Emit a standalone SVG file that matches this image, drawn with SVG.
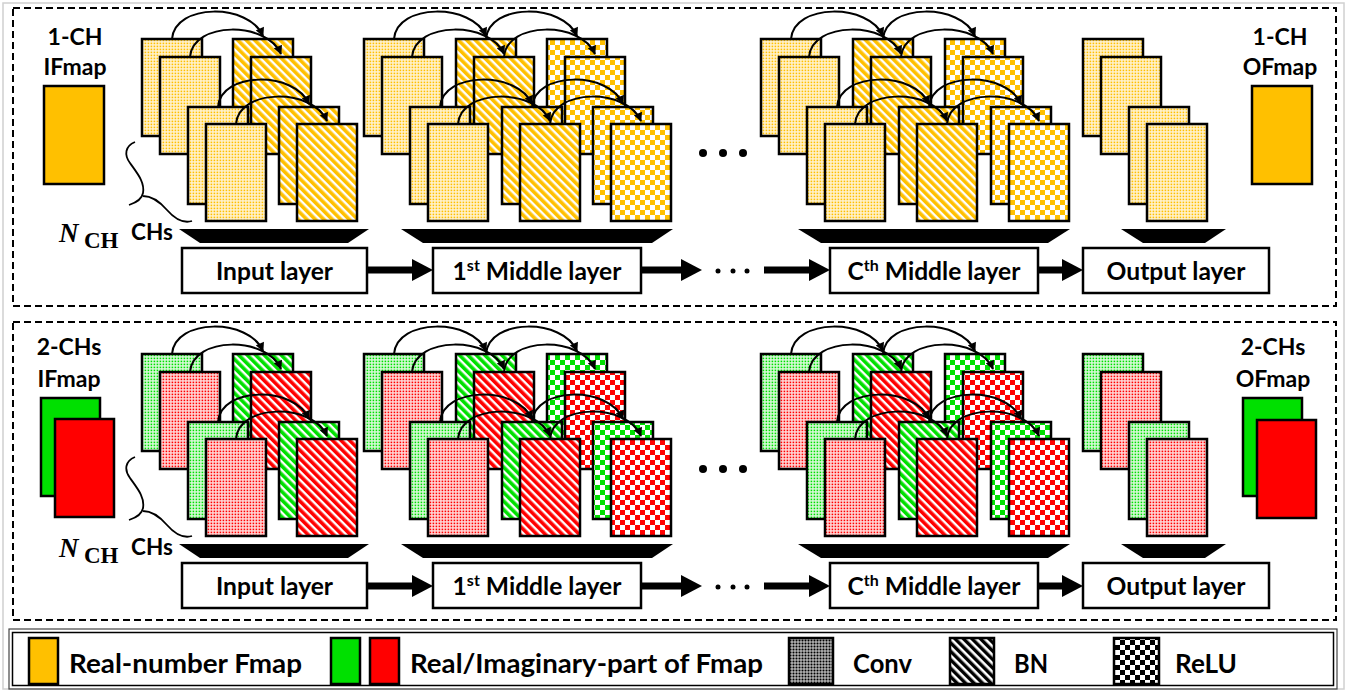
<svg xmlns="http://www.w3.org/2000/svg" width="1347" height="692" viewBox="0 0 1347 692">
<style>
.card{stroke:#000;stroke-width:2.5}
.arc{fill:none;stroke:#000;stroke-width:2;marker-end:url(#ah)}
.box{fill:#fff;stroke:#000;stroke-width:2.5}
.lbl{font-family:Lato,"Liberation Sans",sans-serif;font-weight:700;font-size:24.6px;text-anchor:middle;fill:#000}
.ttl{font-family:Lato,"Liberation Sans",sans-serif;font-weight:700;font-size:23px;text-anchor:middle;fill:#000}
.leg{font-family:Lato,"Liberation Sans",sans-serif;font-weight:700;font-size:26.5px;fill:#000}
.big{fill:none;stroke:#000;stroke-width:7;marker-end:url(#bh)}
.brace{fill:none;stroke:#000;stroke-width:1.8}
.panel{fill:none;stroke:#000;stroke-width:2;stroke-dasharray:7 4}
.nN{font-family:"Liberation Serif",serif;font-style:italic;font-weight:700;font-size:27px}
.nC{font-family:"Liberation Serif",serif;font-weight:700;font-size:23px}
.nS{font-family:Lato,"Liberation Sans",sans-serif;font-weight:700;font-size:22.5px}
</style>
<defs>
<marker id="ah" viewBox="0 0 10 10" refX="9" refY="5" markerWidth="10" markerHeight="9" markerUnits="userSpaceOnUse" orient="auto"><path d="M0,0 L10,5 L0,10 z" fill="#000"/></marker>
<marker id="bh" viewBox="0 0 21 22" refX="0" refY="11" markerWidth="21" markerHeight="22" markerUnits="userSpaceOnUse" orient="auto"><path d="M0,0 L21,11 L0,22 z" fill="#000"/></marker>
<pattern id="dO" width="3" height="3" patternUnits="userSpaceOnUse"><rect width="3" height="3" fill="#FFF3D2"/><rect x="0.6" y="0.6" width="1.6" height="1.6" fill="#FFC000"/></pattern>
<pattern id="dG" width="3" height="3" patternUnits="userSpaceOnUse"><rect width="3" height="3" fill="#DDFADD"/><rect x="0.6" y="0.6" width="1.6" height="1.6" fill="#00E000"/></pattern>
<pattern id="dR" width="3" height="3" patternUnits="userSpaceOnUse"><rect width="3" height="3" fill="#FFDCDC"/><rect x="0.6" y="0.6" width="1.6" height="1.6" fill="#FF0000"/></pattern>
<pattern id="dK" width="3" height="3" patternUnits="userSpaceOnUse"><rect width="3" height="3" fill="#fff"/><rect x="0.4" y="0.4" width="2.2" height="2.2" fill="#000"/></pattern>
<pattern id="sO" width="6" height="6" patternUnits="userSpaceOnUse" patternTransform="rotate(-45)"><rect width="6" height="6" fill="#fff"/><rect width="3.6" height="6" fill="#FFC000"/></pattern>
<pattern id="sG" width="6" height="6" patternUnits="userSpaceOnUse" patternTransform="rotate(-45)"><rect width="6" height="6" fill="#fff"/><rect width="3.6" height="6" fill="#00E000"/></pattern>
<pattern id="sR" width="6" height="6" patternUnits="userSpaceOnUse" patternTransform="rotate(-45)"><rect width="6" height="6" fill="#fff"/><rect width="3.6" height="6" fill="#FF0000"/></pattern>
<pattern id="sK" width="6" height="6" patternUnits="userSpaceOnUse" patternTransform="rotate(-45)"><rect width="6" height="6" fill="#fff"/><rect width="3.4" height="6" fill="#000"/></pattern>
<pattern id="cO" width="10" height="10" patternUnits="userSpaceOnUse"><rect width="10" height="10" fill="#fff"/><rect width="5" height="5" fill="#FFC000"/><rect x="5" y="5" width="5" height="5" fill="#FFC000"/></pattern>
<pattern id="cG" width="10" height="10" patternUnits="userSpaceOnUse"><rect width="10" height="10" fill="#fff"/><rect width="5" height="5" fill="#00E000"/><rect x="5" y="5" width="5" height="5" fill="#00E000"/></pattern>
<pattern id="cR" width="10" height="10" patternUnits="userSpaceOnUse"><rect width="10" height="10" fill="#fff"/><rect width="5" height="5" fill="#FF0000"/><rect x="5" y="5" width="5" height="5" fill="#FF0000"/></pattern>
<pattern id="cK" width="10" height="10" patternUnits="userSpaceOnUse"><rect width="10" height="10" fill="#fff"/><rect width="5" height="5" fill="#000"/><rect x="5" y="5" width="5" height="5" fill="#000"/></pattern>
</defs>
<rect width="1347" height="692" fill="#fff"/>
<rect x="3" y="3" width="1341" height="686" fill="none" stroke="#d0d0d0" stroke-width="1.5"/>

<!-- ================= TOP PANEL (1-CH) ================= -->
<g id="panel-top">
<rect class="panel" x="13" y="8" width="1323" height="298"/>
</g>
<g id="top-ifmap">
<text class="ttl" x="75" y="45">1-CH</text>
<text class="ttl" x="75" y="75">IFmap</text>
<rect class="card" x="44" y="86" width="60" height="98" fill="#FFC000"/>
</g>
<g id="top-nch">
<path class="brace" d="M135,142 C125,146 124,155 130,163 C137,173 145,182 143,193 C142,199 135,203 129,205 M143,196 C152,196 160,202 167,210 C174,218 182,224 192,221"/>
<text class="nN" x="59" y="242">N</text>
<text class="nC" x="84" y="248">CH</text>
<text class="nS" x="131" y="240">CHs</text>
</g>
<g id="top-input">
<rect class="card" x="142" y="39" width="60" height="97" fill="url(#dO)"/>
<rect class="card" x="160" y="57" width="60" height="97" fill="url(#dO)"/>
<rect class="card" x="233" y="39" width="60" height="97" fill="url(#sO)"/>
<rect class="card" x="251" y="57" width="60" height="97" fill="url(#sO)"/>
<path class="arc" d="M172,39 C175,3 249,3 263,36"/>
<path class="arc" d="M190,57 C193,21 267,21 281,54"/>
<rect class="card" x="188" y="107" width="60" height="97" fill="url(#dO)"/>
<rect class="card" x="206" y="124" width="60" height="97" fill="url(#dO)"/>
<rect class="card" x="279" y="107" width="60" height="97" fill="url(#sO)"/>
<rect class="card" x="297" y="124" width="60" height="97" fill="url(#sO)"/>
<path class="arc" d="M218,107 C221,71 295,71 309,104"/>
<path class="arc" d="M236,124 C239,88 313,88 327,121"/>
<polygon points="179,229 369,229 348,243 200,243" fill="#000"/>
<rect class="box" x="182" y="248" width="185" height="45"/>
<text class="lbl" x="274.5" y="280">Input layer</text>
</g>
<g id="top-middle1">
<rect class="card" x="364" y="39" width="60" height="97" fill="url(#dO)"/>
<rect class="card" x="382" y="57" width="60" height="97" fill="url(#dO)"/>
<rect class="card" x="456" y="39" width="60" height="97" fill="url(#sO)"/>
<rect class="card" x="474" y="57" width="60" height="97" fill="url(#sO)"/>
<rect class="card" x="547" y="39" width="60" height="97" fill="url(#cO)"/>
<rect class="card" x="565" y="57" width="60" height="97" fill="url(#cO)"/>
<path class="arc" d="M394,39 C397,3 472,3 486,36"/>
<path class="arc" d="M486,39 C489,3 563,3 577,36"/>
<path class="arc" d="M412,57 C415,21 490,21 504,54"/>
<path class="arc" d="M504,57 C507,21 581,21 595,54"/>
<rect class="card" x="410" y="107" width="60" height="97" fill="url(#dO)"/>
<rect class="card" x="428" y="124" width="60" height="97" fill="url(#dO)"/>
<rect class="card" x="502" y="107" width="60" height="97" fill="url(#sO)"/>
<rect class="card" x="520" y="124" width="60" height="97" fill="url(#sO)"/>
<rect class="card" x="593" y="107" width="60" height="97" fill="url(#cO)"/>
<rect class="card" x="611" y="124" width="60" height="97" fill="url(#cO)"/>
<path class="arc" d="M440,107 C443,71 518,71 532,104"/>
<path class="arc" d="M532,107 C535,71 609,71 623,104"/>
<path class="arc" d="M458,124 C461,88 536,88 550,121"/>
<path class="arc" d="M550,124 C553,88 627,88 641,121"/>
<polygon points="401,229 673,229 652,243 423,243" fill="#000"/>
<rect class="box" x="433" y="248" width="208" height="45"/>
<text class="lbl" x="537" y="280">1<tspan font-size="16" dy="-9">st</tspan><tspan dy="9"> Middle layer</tspan></text>
</g>
<g id="top-ellipsis">
<circle cx="703" cy="153" r="4"/><circle cx="723" cy="153" r="4"/><circle cx="743" cy="153" r="4"/>
</g>
<g id="top-middleC">
<rect class="card" x="761" y="39" width="60" height="97" fill="url(#dO)"/>
<rect class="card" x="779" y="57" width="60" height="97" fill="url(#dO)"/>
<rect class="card" x="853" y="39" width="60" height="97" fill="url(#sO)"/>
<rect class="card" x="871" y="57" width="60" height="97" fill="url(#sO)"/>
<rect class="card" x="945" y="39" width="60" height="97" fill="url(#cO)"/>
<rect class="card" x="963" y="57" width="60" height="97" fill="url(#cO)"/>
<path class="arc" d="M791,39 C794,3 869,3 883,36"/>
<path class="arc" d="M883,39 C886,3 961,3 975,36"/>
<path class="arc" d="M809,57 C812,21 887,21 901,54"/>
<path class="arc" d="M901,57 C904,21 979,21 993,54"/>
<rect class="card" x="807" y="107" width="60" height="97" fill="url(#dO)"/>
<rect class="card" x="825" y="124" width="60" height="97" fill="url(#dO)"/>
<rect class="card" x="899" y="107" width="60" height="97" fill="url(#sO)"/>
<rect class="card" x="917" y="124" width="60" height="97" fill="url(#sO)"/>
<rect class="card" x="991" y="107" width="60" height="97" fill="url(#cO)"/>
<rect class="card" x="1009" y="124" width="60" height="97" fill="url(#cO)"/>
<path class="arc" d="M837,107 C840,71 915,71 929,104"/>
<path class="arc" d="M929,107 C932,71 1007,71 1021,104"/>
<path class="arc" d="M855,124 C858,88 933,88 947,121"/>
<path class="arc" d="M947,124 C950,88 1025,88 1039,121"/>
<polygon points="798,229 1070,229 1048,243 821,243" fill="#000"/>
<rect class="box" x="830" y="248" width="208" height="45"/>
<text class="lbl" x="934" y="280">C<tspan font-size="16" dy="-9">th</tspan><tspan dy="9"> Middle layer</tspan></text>
</g>
<g id="top-output">
<rect class="card" x="1083" y="39" width="60" height="97" fill="url(#dO)"/>
<rect class="card" x="1101" y="57" width="60" height="97" fill="url(#dO)"/>
<rect class="card" x="1129" y="107" width="60" height="97" fill="url(#dO)"/>
<rect class="card" x="1147" y="124" width="60" height="97" fill="url(#dO)"/>
<polygon points="1121,229 1226,229 1205,243 1143,243" fill="#000"/>
<rect class="box" x="1083" y="248" width="186" height="45"/>
<text class="lbl" x="1176" y="280">Output layer</text>
</g>
<g id="top-ofmap">
<text class="ttl" x="1280" y="45">1-CH</text>
<text class="ttl" x="1280" y="75">OFmap</text>
<rect class="card" x="1252" y="86" width="60" height="98" fill="#FFC000"/>
</g>

<!-- ================= BOTTOM PANEL (2-CHs) ================= -->
<g id="panel-bottom">
<rect class="panel" x="13" y="322" width="1323" height="298"/>
</g>
<g id="bot-ifmap">
<text class="ttl" x="69" y="355">2-CHs</text>
<text class="ttl" x="69" y="387">IFmap</text>
<rect class="card" x="41" y="398" width="59" height="98" fill="#00E000"/>
<rect class="card" x="55" y="419" width="59" height="98" fill="#FF0000"/>
</g>
<g id="bot-nch">
<path class="brace" d="M135,457 C125,461 124,470 130,478 C137,488 145,497 143,508 C142,514 135,518 129,520 M143,511 C152,511 160,517 167,525 C174,533 182,539 192,536"/>
<text class="nN" x="59" y="557">N</text>
<text class="nC" x="84" y="563">CH</text>
<text class="nS" x="131" y="555">CHs</text>
</g>
<g id="bot-input">
<rect class="card" x="142" y="354" width="60" height="97" fill="url(#dG)"/>
<rect class="card" x="160" y="372" width="60" height="97" fill="url(#dR)"/>
<rect class="card" x="233" y="354" width="60" height="97" fill="url(#sG)"/>
<rect class="card" x="251" y="372" width="60" height="97" fill="url(#sR)"/>
<path class="arc" d="M172,354 C175,318 249,318 263,351"/>
<path class="arc" d="M190,372 C193,336 267,336 281,369"/>
<rect class="card" x="188" y="422" width="60" height="97" fill="url(#dG)"/>
<rect class="card" x="206" y="439" width="60" height="97" fill="url(#dR)"/>
<rect class="card" x="279" y="422" width="60" height="97" fill="url(#sG)"/>
<rect class="card" x="297" y="439" width="60" height="97" fill="url(#sR)"/>
<path class="arc" d="M218,422 C221,386 295,386 309,419"/>
<path class="arc" d="M236,439 C239,403 313,403 327,436"/>
<polygon points="179,544 369,544 348,558 200,558" fill="#000"/>
<rect class="box" x="182" y="563" width="185" height="45"/>
<text class="lbl" x="274.5" y="595">Input layer</text>
</g>
<g id="bot-middle1">
<rect class="card" x="364" y="354" width="60" height="97" fill="url(#dG)"/>
<rect class="card" x="382" y="372" width="60" height="97" fill="url(#dR)"/>
<rect class="card" x="456" y="354" width="60" height="97" fill="url(#sG)"/>
<rect class="card" x="474" y="372" width="60" height="97" fill="url(#sR)"/>
<rect class="card" x="547" y="354" width="60" height="97" fill="url(#cG)"/>
<rect class="card" x="565" y="372" width="60" height="97" fill="url(#cR)"/>
<path class="arc" d="M394,354 C397,318 472,318 486,351"/>
<path class="arc" d="M486,354 C489,318 563,318 577,351"/>
<path class="arc" d="M412,372 C415,336 490,336 504,369"/>
<path class="arc" d="M504,372 C507,336 581,336 595,369"/>
<rect class="card" x="410" y="422" width="60" height="97" fill="url(#dG)"/>
<rect class="card" x="428" y="439" width="60" height="97" fill="url(#dR)"/>
<rect class="card" x="502" y="422" width="60" height="97" fill="url(#sG)"/>
<rect class="card" x="520" y="439" width="60" height="97" fill="url(#sR)"/>
<rect class="card" x="593" y="422" width="60" height="97" fill="url(#cG)"/>
<rect class="card" x="611" y="439" width="60" height="97" fill="url(#cR)"/>
<path class="arc" d="M440,422 C443,386 518,386 532,419"/>
<path class="arc" d="M532,422 C535,386 609,386 623,419"/>
<path class="arc" d="M458,439 C461,403 536,403 550,436"/>
<path class="arc" d="M550,439 C553,403 627,403 641,436"/>
<polygon points="401,544 673,544 652,558 423,558" fill="#000"/>
<rect class="box" x="433" y="563" width="208" height="45"/>
<text class="lbl" x="537" y="595">1<tspan font-size="16" dy="-9">st</tspan><tspan dy="9"> Middle layer</tspan></text>
</g>
<g id="bot-ellipsis">
<circle cx="703" cy="469" r="4"/><circle cx="723" cy="469" r="4"/><circle cx="743" cy="469" r="4"/>
</g>
<g id="bot-middleC">
<rect class="card" x="761" y="354" width="60" height="97" fill="url(#dG)"/>
<rect class="card" x="779" y="372" width="60" height="97" fill="url(#dR)"/>
<rect class="card" x="853" y="354" width="60" height="97" fill="url(#sG)"/>
<rect class="card" x="871" y="372" width="60" height="97" fill="url(#sR)"/>
<rect class="card" x="945" y="354" width="60" height="97" fill="url(#cG)"/>
<rect class="card" x="963" y="372" width="60" height="97" fill="url(#cR)"/>
<path class="arc" d="M791,354 C794,318 869,318 883,351"/>
<path class="arc" d="M883,354 C886,318 961,318 975,351"/>
<path class="arc" d="M809,372 C812,336 887,336 901,369"/>
<path class="arc" d="M901,372 C904,336 979,336 993,369"/>
<rect class="card" x="807" y="422" width="60" height="97" fill="url(#dG)"/>
<rect class="card" x="825" y="439" width="60" height="97" fill="url(#dR)"/>
<rect class="card" x="899" y="422" width="60" height="97" fill="url(#sG)"/>
<rect class="card" x="917" y="439" width="60" height="97" fill="url(#sR)"/>
<rect class="card" x="991" y="422" width="60" height="97" fill="url(#cG)"/>
<rect class="card" x="1009" y="439" width="60" height="97" fill="url(#cR)"/>
<path class="arc" d="M837,422 C840,386 915,386 929,419"/>
<path class="arc" d="M929,422 C932,386 1007,386 1021,419"/>
<path class="arc" d="M855,439 C858,403 933,403 947,436"/>
<path class="arc" d="M947,439 C950,403 1025,403 1039,436"/>
<polygon points="798,544 1070,544 1048,558 821,558" fill="#000"/>
<rect class="box" x="830" y="563" width="208" height="45"/>
<text class="lbl" x="934" y="595">C<tspan font-size="16" dy="-9">th</tspan><tspan dy="9"> Middle layer</tspan></text>
</g>
<g id="bot-output">
<rect class="card" x="1083" y="354" width="60" height="97" fill="url(#dG)"/>
<rect class="card" x="1101" y="372" width="60" height="97" fill="url(#dR)"/>
<rect class="card" x="1129" y="422" width="60" height="97" fill="url(#dG)"/>
<rect class="card" x="1147" y="439" width="60" height="97" fill="url(#dR)"/>
<polygon points="1121,544 1226,544 1205,558 1143,558" fill="#000"/>
<rect class="box" x="1083" y="563" width="186" height="45"/>
<text class="lbl" x="1176" y="595">Output layer</text>
</g>
<g id="bot-ofmap">
<text class="ttl" x="1273" y="355">2-CHs</text>
<text class="ttl" x="1273" y="387">OFmap</text>
<rect class="card" x="1243" y="398" width="59" height="98" fill="#00E000"/>
<rect class="card" x="1257" y="420" width="59" height="98" fill="#FF0000"/>
</g>

<!-- ================= CONNECTORS ================= -->
<g id="connectors">
<path class="big" d="M367,270 H412"/>
<path class="big" d="M641,270 H681"/>
<path class="big" d="M764,270 H809"/>
<path class="big" d="M1038,270 H1062"/>
<circle cx="718" cy="271" r="2.5"/><circle cx="733" cy="271" r="2.5"/><circle cx="747" cy="271" r="2.5"/>
<path class="big" d="M367,586 H412"/>
<path class="big" d="M641,586 H681"/>
<path class="big" d="M764,586 H809"/>
<path class="big" d="M1038,586 H1062"/>
<circle cx="718" cy="587" r="2.5"/><circle cx="733" cy="587" r="2.5"/><circle cx="747" cy="587" r="2.5"/>
</g>

<!-- ================= LEGEND ================= -->
<g id="legend">
<rect x="9" y="629" width="1328" height="60" fill="none" stroke="#444" stroke-width="1.2"/>
<rect x="12.5" y="632.5" width="1321" height="53" fill="none" stroke="#000" stroke-width="1.5"/>
<rect class="card" x="29" y="638" width="29" height="46" fill="#FFC000"/>
<text class="leg" x="69" y="673" textLength="233" lengthAdjust="spacingAndGlyphs">Real-number Fmap</text>
<rect class="card" x="331" y="638" width="29" height="46" fill="#00E000"/>
<rect class="card" x="370" y="638" width="29" height="46" fill="#FF0000"/>
<text class="leg" x="410" y="673" textLength="353" lengthAdjust="spacingAndGlyphs">Real/Imaginary-part of Fmap</text>
<rect class="card" x="789" y="638" width="44" height="46" fill="url(#dK)"/>
<text class="leg" x="853" y="673" textLength="59" lengthAdjust="spacingAndGlyphs">Conv</text>
<rect class="card" x="950" y="638" width="44" height="46" fill="url(#sK)"/>
<text class="leg" x="1014" y="673" textLength="34" lengthAdjust="spacingAndGlyphs">BN</text>
<rect class="card" x="1114" y="638" width="45" height="46" fill="url(#cK)"/>
<text class="leg" x="1175" y="673" textLength="62" lengthAdjust="spacingAndGlyphs">ReLU</text>
</g>
</svg>
